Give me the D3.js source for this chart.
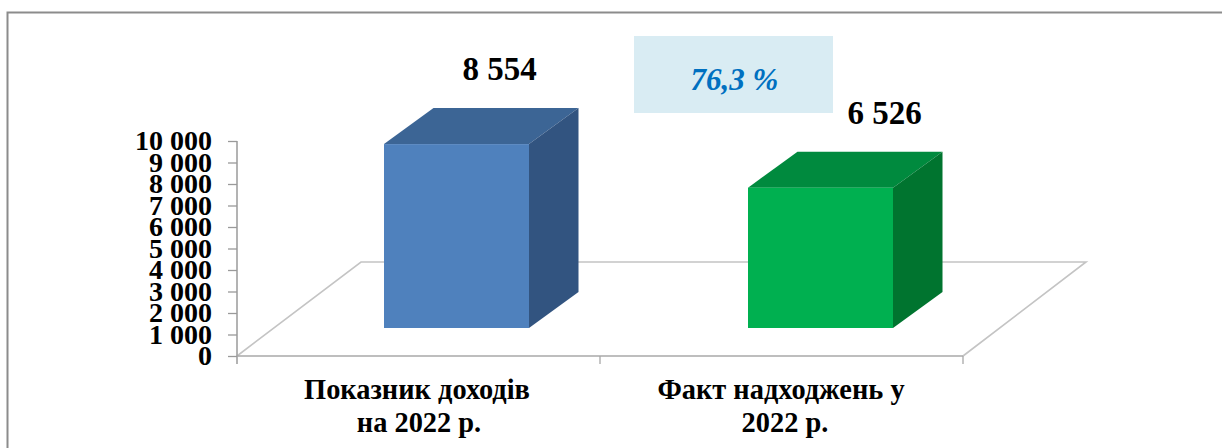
<!DOCTYPE html>
<html><head><meta charset="utf-8">
<script src="https://cdn.jsdelivr.net/npm/d3@7"></script>
<style>html,body{margin:0;background:#fff;overflow:hidden}svg{display:block}text{font-family:"Liberation Serif",serif;font-weight:bold;fill:#000}</style>
</head><body><div id="c"></div>
<script>
const categories=[["Показник доходів","на 2022 р."],["Факт надходжень у","2022 р."]];
const values=[8554,6526];
const valueLabels=["8 554","6 526"];
const yTicks=[0,1000,2000,3000,4000,5000,6000,7000,8000,9000,10000];
const note="76,3 %";
const faceColors=[["#4f81bd","#3c6595","#325480"],["#00b050","#008a3e","#00742f"]];

const W=1222,H=448;
const svg=d3.select("#c").append("svg").attr("width",W).attr("height",H);
// frame
svg.append("path").attr("d","M7.5,448V12.5H1222").attr("fill","none").attr("stroke","#8c8c8c").attr("stroke-width",2);

const y=d3.scaleLinear().domain([0,10000]).range([356,141]);
const x=d3.scaleBand().domain(d3.range(categories.length)).range([237,963]);
const depthX=124,depthY=-94;      // floor depth
const frontLift=-28;              // front plane of the bars above the floor edge
const dx=49.5,dy=-36;             // bar depth
const barW=145;

// floor
svg.append("path").attr("fill","none").attr("stroke","#c4c4c4").attr("stroke-width",1.6)
  .attr("d",`M237,356L${237+depthX},${356+depthY}H${963+depthX-1}L963,356`);

// axes
const gy=svg.append("g").attr("transform","translate(237,0)")
  .call(d3.axisLeft(y).tickValues(yTicks).tickSize(9).tickPadding(16)
  .tickFormat(d=>d3.format(",")(d).replace(/,/g," ")));
gy.select(".domain").attr("stroke","#9a9a9a").attr("stroke-width",1.5).attr("d","M0,141V364");
gy.selectAll(".tick line").attr("stroke","#9a9a9a").attr("stroke-width",1.3);
gy.selectAll(".tick text").style("font-size","28px").attr("fill","#000").attr("dy","0.32em");

const gx=svg.append("g").attr("transform","translate(0,356)")
  .call(d3.axisBottom(x).tickValues([]).tickSize(0));
gx.select(".domain").attr("stroke","#a8a8a8").attr("stroke-width",1.5).attr("d","M237,0H963");
[237+363,963].forEach(v=>svg.append("line").attr("x1",v).attr("x2",v).attr("y1",356).attr("y2",364).attr("stroke","#a8a8a8").attr("stroke-width",1.3));

// bars
const base=y(0)+frontLift;
const bars=svg.selectAll(".bar").data(values).join("g").attr("class","bar");
bars.each(function(v,i){
  const g=d3.select(this);
  const l=x(i)+(i===0?147:148), r=l+barW, t=base-(y(0)-y(v));
  g.append("path").attr("fill",faceColors[i][1]).attr("d",`M${l},${t}L${l+dx},${t+dy}H${r+dx}L${r},${t}Z`);
  g.append("path").attr("fill",faceColors[i][2]).attr("d",`M${r},${t}L${r+dx},${t+dy}V${base+dy}L${r},${base}Z`);
  g.append("rect").attr("x",l).attr("y",t).attr("width",barW).attr("height",base-t).attr("fill",faceColors[i][0]);
});
// value labels
svg.selectAll(".val").data(valueLabels).join("text").attr("class","val")
  .attr("text-anchor","middle").style("font-size","33px")
  .attr("x",(d,i)=>[499.5,884.5][i]).attr("y",(d,i)=>[80,124][i]).text(d=>d);

// category labels
const lab=svg.selectAll(".cat").data(categories).join("text").attr("class","cat")
  .attr("text-anchor","middle").style("font-size","28.4px");
lab.each(function(c,i){
  d3.select(this).selectAll("tspan").data(c).join("tspan")
    .attr("x",(d,j)=>[[417,419],[781,785]][i][j]).attr("y",(d,j)=>399+j*33).text(d=>d);
});

// note box
svg.append("rect").attr("x",634).attr("y",36).attr("width",199).attr("height",77).attr("fill","#d9ecf3");
svg.append("text").attr("x",734.5).attr("y",90).attr("text-anchor","middle")
  .style("font-size","31px").style("font-style","italic").style("fill","#0070c0").text(note);
</script></body></html>
